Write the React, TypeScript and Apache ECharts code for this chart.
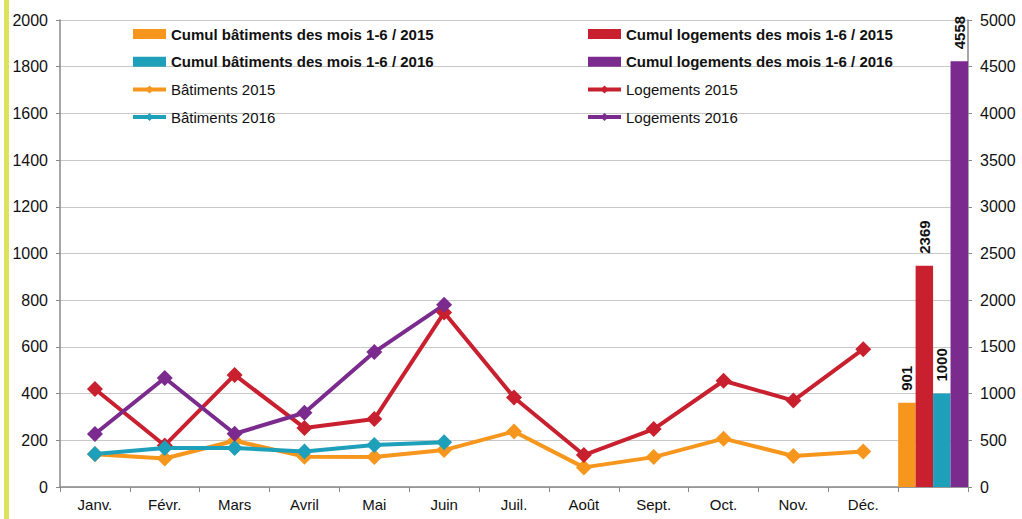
import React, { useEffect, useRef } from "react";
import * as echarts from "echarts";

const categories = ["Janv.", "Févr.", "Mars", "Avril", "Mai", "Juin", "Juil.", "Août", "Sept.", "Oct.", "Nov.", "Déc.", ""];
const batiments2015 = [140, 122, 198, 130, 128, 158, 238, 84, 128, 207, 133, 152];
const logements2015 = [420, 178, 480, 253, 291, 747, 383, 137, 248, 455, 370, 590];
const batiments2016 = [141, 167, 167, 152, 180, 192];
const logements2016 = [227, 467, 228, 318, 578, 780];
const cumulBat2015 = 901;
const cumulLog2015 = 2369;
const cumulBat2016 = 1000;
const cumulLog2016 = 4558;

const names = {
  cb15: "Cumul bâtiments des mois 1-6 / 2015",
  cb16: "Cumul bâtiments des mois 1-6 / 2016",
  cl15: "Cumul logements des mois 1-6 / 2015",
  cl16: "Cumul logements des mois 1-6 / 2016",
  b15: "Bâtiments 2015",
  b16: "Bâtiments 2016",
  l15: "Logements 2015",
  l16: "Logements 2016",
};

const ORANGE = "#f7961d";
const RED = "#c8202f";
const TEAL = "#1ea0ba";
const PURPLE = "#7b2a8e";
const FONT = "Liberation Sans, Arial, sans-serif";

function barData(v: number) {
  const arr: (number | null)[] = categories.map(() => null);
  arr[categories.length - 1] = v;
  return arr;
}

export default function App() {
  const ref = useRef<HTMLDivElement>(null);
  useEffect(() => {
    if (!ref.current) return;
    const chart = echarts.init(ref.current, null, { renderer: "svg" });
    const barSeries = (name: string, v: number, color: string) => ({
      name,
      type: "bar",
      yAxisIndex: 1,
      data: barData(v),
      barGap: "0%",
      barCategoryGap: "0%",
      itemStyle: { color },
      label: {
        show: true,
        position: "top",
        rotate: 90,
        align: "left",
        verticalAlign: "middle",
        distance: 12,
        fontFamily: FONT,
        fontWeight: "bold",
        fontSize: 15,
        color: "#111",
      },
    });
    const lineSeries = (name: string, data: number[], color: string) => ({
      name,
      type: "line",
      yAxisIndex: 0,
      data,
      symbol: "diamond",
      symbolSize: 16,
      lineStyle: { color, width: 4 },
      itemStyle: { color },
    });
    const legendText = { fontFamily: FONT, fontSize: 15, color: "#111", lineHeight: 18 };
    const legendBase = {
      orient: "vertical",
      top: 25,
      padding: 0,
      itemWidth: 33,
      itemHeight: 10,
      itemGap: 9.7,
      textStyle: legendText,
      lineStyle: { width: 4 },
    };
    const labelFmt = (v: number) => String(v);
    chart.setOption({
      animation: false,
      backgroundColor: "#fff",
      graphic: [
        { type: "rect", shape: { x: 4, y: 0, width: 5, height: 519 }, style: { fill: "#dfe25c" } },
      ],
      grid: { left: 60, right: 54, top: 20, bottom: 32 },
      legend: [
        {
          ...legendBase,
          left: 131,
          data: [
            { name: names.cb15, icon: "rect", textStyle: { fontWeight: "bold" } },
            { name: names.cb16, icon: "rect", textStyle: { fontWeight: "bold" } },
            { name: names.b15 },
            { name: names.b16 },
          ],
        },
        {
          ...legendBase,
          left: 586,
          data: [
            { name: names.cl15, icon: "rect", textStyle: { fontWeight: "bold" } },
            { name: names.cl16, icon: "rect", textStyle: { fontWeight: "bold" } },
            { name: names.l15 },
            { name: names.l16 },
          ],
        },
      ],
      xAxis: {
        type: "category",
        data: categories,
        boundaryGap: true,
        axisLine: { lineStyle: { color: "#888", width: 1.5 } },
        axisTick: { show: true, length: 5, lineStyle: { color: "#888" } },
        axisLabel: { fontFamily: FONT, fontSize: 15, color: "#111", margin: 10 },
      },
      yAxis: [
        {
          type: "value",
          min: 0,
          max: 2000,
          interval: 200,
          axisLine: { show: true, lineStyle: { color: "#888", width: 1.5 } },
          axisTick: { show: true, length: 4, lineStyle: { color: "#888" } },
          axisLabel: { fontFamily: FONT, fontSize: 16, color: "#111", margin: 12, formatter: labelFmt },
          splitLine: { show: true, lineStyle: { color: "#c8c8c8", width: 1.2 } },
        },
        {
          type: "value",
          min: 0,
          max: 5000,
          interval: 500,
          position: "right",
          axisLine: { show: true, lineStyle: { color: "#888", width: 1.5 } },
          axisTick: { show: true, length: 4, lineStyle: { color: "#888" } },
          axisLabel: { fontFamily: FONT, fontSize: 16, color: "#111", margin: 12, formatter: labelFmt },
          splitLine: { show: false },
        },
      ],
      series: [
        barSeries(names.cb15, cumulBat2015, ORANGE),
        barSeries(names.cl15, cumulLog2015, RED),
        barSeries(names.cb16, cumulBat2016, TEAL),
        barSeries(names.cl16, cumulLog2016, PURPLE),
        lineSeries(names.b15, batiments2015, ORANGE),
        lineSeries(names.l15, logements2015, RED),
        lineSeries(names.b16, batiments2016, TEAL),
        lineSeries(names.l16, logements2016, PURPLE),
      ],
    });
    return () => chart.dispose();
  }, []);
  return (
    <div
      ref={ref}
      style={{ position: "fixed", left: 0, top: 0, width: 1022, height: 519, background: "#fff" }}
    />
  );
}
